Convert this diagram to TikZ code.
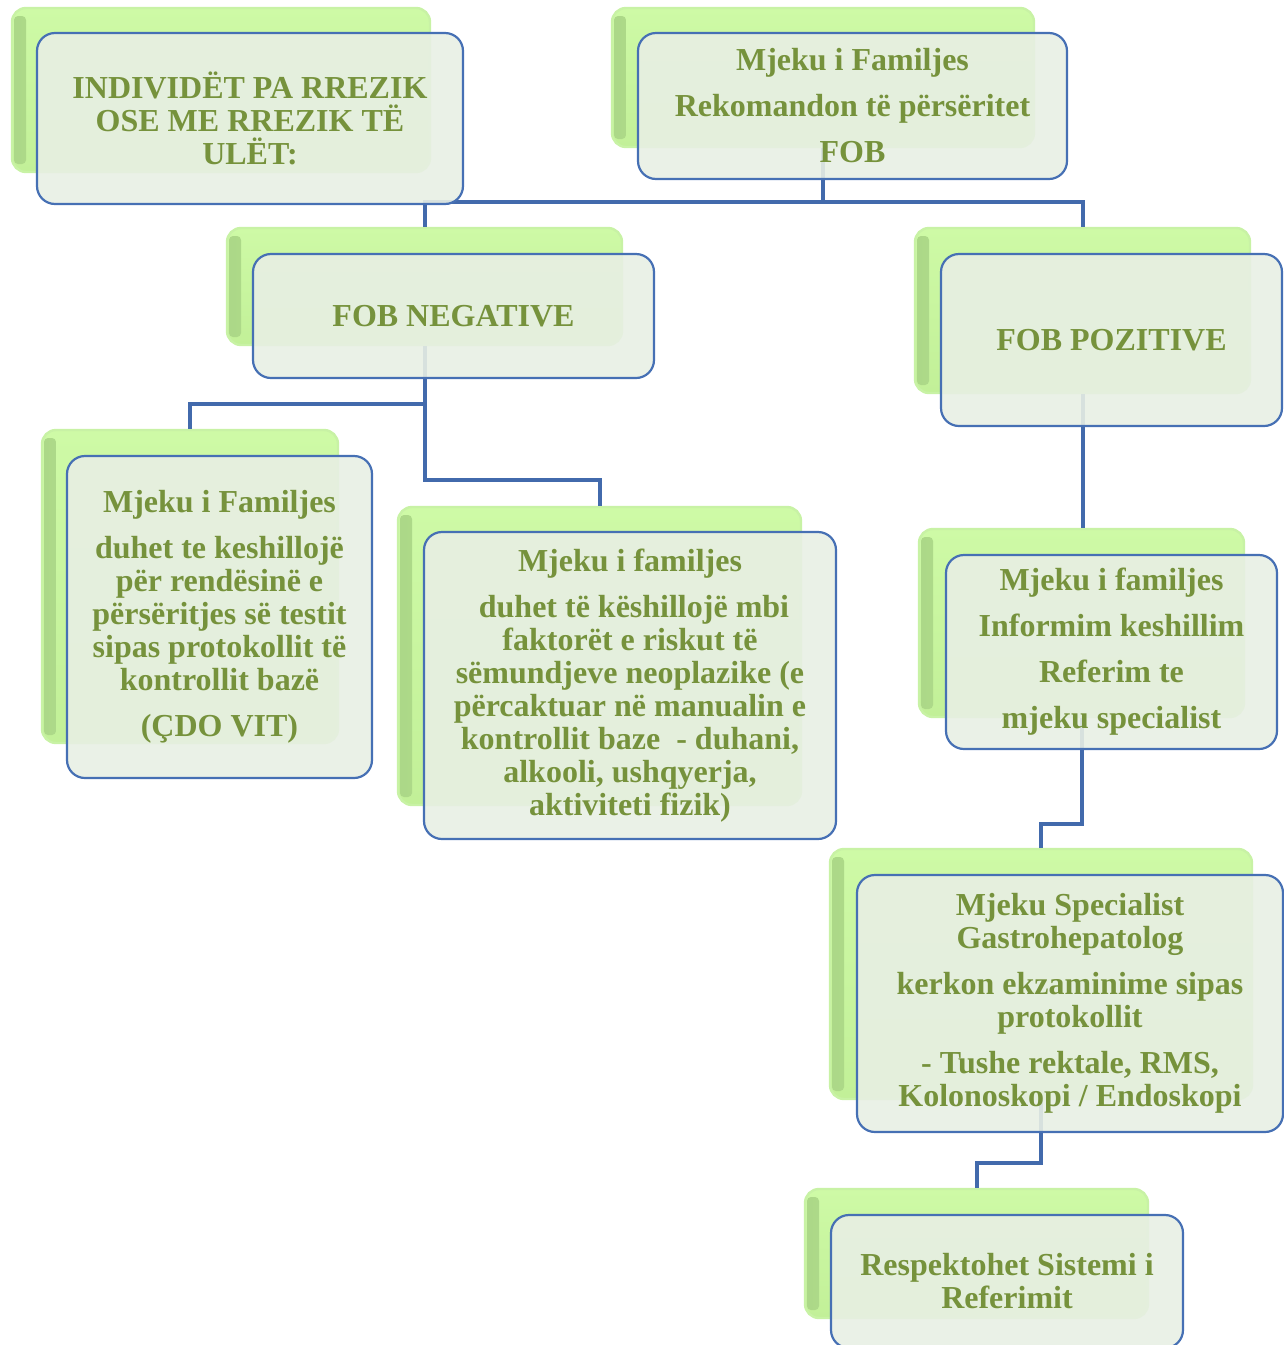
\documentclass[tikz,border=0pt]{standalone}
\usepackage{fontspec}
\setmainfont{Liberation Serif}
\definecolor{linkblue}{RGB}{66,106,172}
\definecolor{frameBlue}{RGB}{70,112,180}
\definecolor{greenMain}{RGB}{194,240,152}
\definecolor{greenLight}{RGB}{206,250,166}
\definecolor{greenDark}{RGB}{172,216,136}
\definecolor{greenEdge}{RGB}{200,242,165}
\definecolor{paleFill}{RGB}{232,239,228}
\definecolor{oliveText}{RGB}{118,146,60}
\begin{document}
\begin{tikzpicture}[x=0.5pt,y=-0.5pt,
  link/.style={draw=linkblue, line width=2pt},
  backbox/.style={rounded corners=7pt, top color=greenLight, bottom color=greenMain,
    draw=greenEdge, line width=1.2pt, inner sep=0pt,
    path picture={
      \shade[left color=greenDark, right color=greenMain, rounded corners=2pt]
        ([xshift=1pt,yshift=-4pt]path picture bounding box.north west)
        rectangle ([xshift=7pt,yshift=4pt]path picture bounding box.south west);
    }},
  frontbox/.style={rounded corners=9pt, fill=paleFill, fill opacity=0.9, text opacity=1,
    draw=frameBlue, draw opacity=1, line width=1.1pt, inner sep=0pt, align=center,
    text=oliveText, font=\fontsize{16}{16.5}\selectfont\bfseries},
]
\useasboundingbox (0,0) rectangle (1284,1345);

% green back panels
\node[backbox, minimum width=209pt,   minimum height=82pt]   (gA) at (221,90) {};
\node[backbox, minimum width=211pt,   minimum height=69.5pt] (gB) at (823,77.5) {};
\node[backbox, minimum width=197.5pt, minimum height=58.5pt] (gC) at (424.5,286.5) {};
\node[backbox, minimum width=167.5pt, minimum height=82.5pt] (gD) at (1082.5,310.5) {};
\node[backbox, minimum width=148pt,   minimum height=156.5pt] (gE) at (190,586.5) {};
\node[backbox, minimum width=201.5pt, minimum height=149pt]  (gF) at (599.5,656) {};
\node[backbox, minimum width=162.5pt, minimum height=94pt]   (gG) at (1081.5,623) {};
\node[backbox, minimum width=211pt,   minimum height=125pt]  (gH) at (1041,974) {};
\node[backbox, minimum width=171.5pt, minimum height=64.5pt] (gI) at (976.5,1253.5) {};

% connectors between the panels
\coordinate (forkB) at (823,202);
\coordinate (forkC1) at (424.5,404);
\coordinate (forkC2) at (424.5,480);
\coordinate (forkG) at (1081.5,824);
\coordinate (forkH) at (1041,1163);
\draw[link] (gB.south) -- (forkB) -| (gC.north);
\draw[link] (forkB) -| (gD.north);
\draw[link] (gC.south) -- (forkC2) -| (gF.north);
\draw[link] (forkC1) -| (gE.north);
\draw[link] (gD.south) -- (gD.south |- gG.north);
\draw[link] (gG.south) -- (forkG) -| (gH.north);
\draw[link] (gH.south) -- (forkH) -| (gI.north);

% front cards with text
\node[frontbox, minimum width=213pt, minimum height=85.5pt] (fA) at (250,118.5)
  {INDIVIDËT PA RREZIK\\OSE ME RREZIK TË\\ULËT:};
\node[frontbox, minimum width=214.5pt, minimum height=73pt] (fB) at (852.5,106)
  {Mjeku i Familjes\\[6.5pt]Rekomandon të përsëritet\\[6.5pt]FOB};
\node[frontbox, minimum width=200.5pt, minimum height=62pt] (fC) at (453.5,316)
  {FOB NEGATIVE};
\node[frontbox, minimum width=170.5pt, minimum height=86pt] (fD) at (1111.5,340)
  {FOB POZITIVE};
\node[frontbox, minimum width=152.5pt, minimum height=161pt] (fE) at (219.5,617)
  {Mjeku i Familjes\\[6.5pt]duhet te keshillojë\\për rendësinë e\\përsëritjes së testit\\sipas protokollit të\\kontrollit bazë\\[6.5pt](ÇDO VIT)};
\node[frontbox, minimum width=206pt, minimum height=153.5pt] (fF) at (630,685.5)
  {Mjeku i familjes\\[6.5pt]\ duhet të këshillojë mbi\\faktorët e riskut të\\sëmundjeve neoplazike (e\\përcaktuar në manualin e\\kontrollit baze\ \ - duhani,\\alkooli, ushqyerja,\\aktiviteti fizik)};
\node[frontbox, minimum width=165.5pt, minimum height=97pt] (fG) at (1111.5,652)
  {Mjeku i familjes\\[6.5pt]Informim keshillim\\[6.5pt]Referim te\\[6.5pt]mjeku specialist};
\node[frontbox, minimum width=213pt, minimum height=128.5pt] (fH) at (1070,1003.5)
  {Mjeku Specialist\\Gastrohepatolog\\[6.5pt]kerkon ekzaminime sipas\\protokollit\\[6.5pt]- Tushe rektale, RMS,\\Kolonoskopi / Endoskopi};
\node[frontbox, minimum width=176pt, minimum height=66.5pt] (fI) at (1007,1281.5)
  {Respektohet Sistemi i\\Referimit};
\end{tikzpicture}
\end{document}
